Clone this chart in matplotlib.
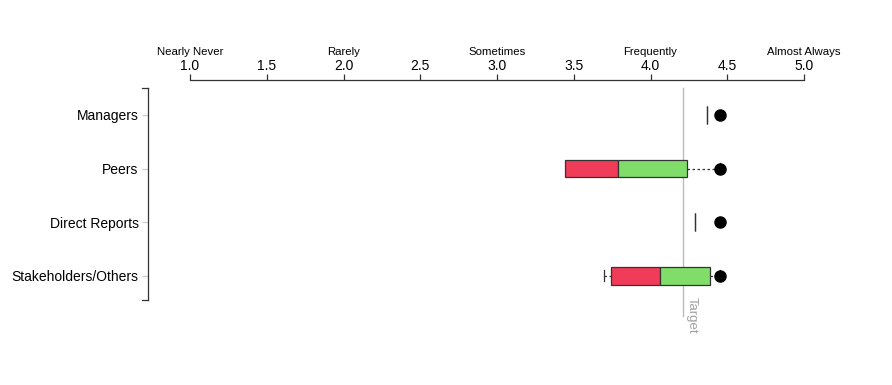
import matplotlib
matplotlib.use("Agg")
import matplotlib.pyplot as plt
from matplotlib.lines import Line2D

plt.rcParams["font.family"] = ["Liberation Sans", "DejaVu Sans"]

# data
groups      = ["Managers", "Peers", "Direct Reports", "Stakeholders/Others"]
whisker_lo  = [4.37, 3.44, 4.29, 3.70]
q1          = [4.37, 3.44, 4.29, 3.74]
median      = [4.37, 3.79, 4.29, 4.06]
q3          = [4.37, 4.24, 4.29, 4.39]
whisker_hi  = [4.37, 4.45, 4.29, 4.45]
score       = [4.45, 4.45, 4.45, 4.45]
target      = 4.21

scale_ticks  = [1.0, 1.5, 2.0, 2.5, 3.0, 3.5, 4.0, 4.5, 5.0]
scale_words  = ["Nearly Never", "Rarely", "Sometimes", "Frequently", "Almost Always"]
scale_wordx  = [1.0, 2.0, 3.0, 4.0, 5.0]

RED   = "#f03c58"
GREEN = "#80dd6a"
EDGE  = "#333333"
FS    = 8.2

W, H = 892, 385
fig = plt.figure(figsize=(W / 100, H / 100), dpi=100)
ax = fig.add_axes([190 / W, 1 - 300 / H, (804 - 190) / W, (300 - 88) / H])

ypos = list(range(len(groups)))
box_h = 0.335
cap_h = 0.2

# boxes: q1 -> median in red, median -> q3 in green
ax.barh(ypos, [m - a for a, m in zip(q1, median)], left=q1, height=box_h,
        color=RED, edgecolor=EDGE, linewidth=0.9, zorder=3)
ax.barh(ypos, [b - m for m, b in zip(median, q3)], left=median, height=box_h,
        color=GREEN, edgecolor=EDGE, linewidth=0.9, zorder=3)

# whiskers
for y, lo, a, b, hi in zip(ypos, whisker_lo, q1, q3, whisker_hi):
    if lo < a:
        ax.plot([lo, a], [y, y], color=EDGE, lw=0.9, ls=(0, (2, 2)), zorder=2)
        ax.plot([lo, lo], [y - cap_h / 2, y + cap_h / 2], color=EDGE, lw=0.9, zorder=2)
    if hi > b:
        ax.plot([b, hi], [y, y], color=EDGE, lw=0.9, ls=(0, (2, 2)), zorder=2)
        ax.plot([hi, hi], [y - cap_h / 2, y + cap_h / 2], color=EDGE, lw=0.9, zorder=2)

# self score dots
ax.plot(score, ypos, "o", color="black", markersize=8, zorder=5, clip_on=False)

# target line
ax.plot([target, target], [-0.5, 3.75], color="#bbbbbb", lw=1.0, zorder=1, clip_on=False)
ax.text(target + 0.02, 3.39, "Target", rotation=-90, ha="left", va="top",
        color="#a0a0a0", fontsize=9.5, clip_on=False)

ax.set_xlim(1, 5)
ax.set_ylim(3.45, -0.5)

# top scale
ax.xaxis.tick_top()
ax.set_xticks(scale_ticks)
ax.set_xticklabels([f"{t:.1f}" for t in scale_ticks], fontsize=FS + 0.3)
ax.tick_params(axis="x", direction="out", length=4, width=0.9, color=EDGE, pad=0.5)
for x, w in zip(scale_wordx, scale_words):
    ax.annotate(w, xy=(x, 1), xycoords=("data", "axes fraction"),
                xytext=(0, 22), textcoords="offset points",
                ha="center", va="bottom", fontsize=FS)

# left bracket axis
ax.set_yticks(ypos)
ax.set_yticklabels(groups, fontsize=7.9)
ax.tick_params(axis="y", direction="out", length=4, width=0.9, color="#cccccc", pad=3)

for s in ("right", "bottom"):
    ax.spines[s].set_visible(False)
ax.spines["top"].set_position(("outward", 6))
ax.spines["left"].set_position(("outward", 30))
for s in ("top", "left"):
    ax.spines[s].set_color(EDGE)
    ax.spines[s].set_linewidth(0.9)

# bracket caps on the left spine
for yy in (88, 300):
    fig.add_artist(Line2D([142 / W, 148 / W], [1 - yy / H, 1 - yy / H],
                          color=EDGE, lw=0.9))

fig.savefig("out.png", dpi=100)
